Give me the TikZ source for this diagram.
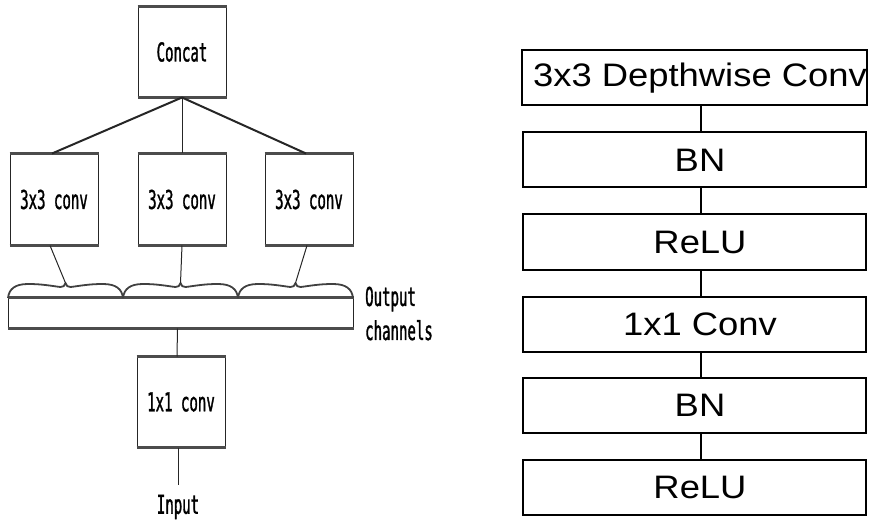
\documentclass[tikz,border=0pt]{standalone}
\usepackage{fontspec}
\setmainfont{Liberation Sans}
\newfontfamily\narrowmono[FakeStretch=0.54, FakeBold=1.2]{DejaVu Sans Mono}
\newfontfamily\widesans[FakeStretch=1.12]{Liberation Sans}
\usetikzlibrary{calc}

\tikzset{
  monobox/.style={draw=black!85, line width=1pt, minimum width=88pt, minimum height=90pt,
    inner sep=0pt, font=\narrowmono\fontsize{26}{29}\selectfont},
  rim/.style={draw=black!70, line width=3pt},
  thinlink/.style={draw=black!85, line width=1pt},
  thicklink/.style={draw=black!85, line width=2pt},
  chbrace/.style={draw=black!75, line width=1.8pt, line join=round},
  monotext/.style={font=\narrowmono\fontsize{26}{34}\selectfont, inner sep=0pt},
  layer/.style={draw, line width=2pt, minimum width=343pt, minimum height=55pt,
    inner sep=0pt, font=\widesans\fontsize{32.5}{36}\selectfont,
    execute at begin node={\hspace*{11pt}}},
  layerlink/.style={draw, line width=2pt}
}

\begin{document}
\begin{tikzpicture}[x=1pt, y=-1pt]
\useasboundingbox (0,0) rectangle (869,521);
\clip (0,0) rectangle (869,521);

% ---- grouped convolution block ----
\node[monobox] (concat) at (182,52) {Concat};
\node[monobox, minimum height=91pt] (ca) at (54,199.5) {3x3 conv};
\node[monobox, minimum height=91pt] (cb) at (182,199.5) {3x3 conv};
\node[monobox, minimum height=91pt] (cc) at (309,199.5) {3x3 conv};
\node[draw=black!85, line width=1pt, minimum width=345pt, minimum height=30pt, inner sep=0pt] (bar) at (180.5,313) {};
\node[monobox] (pw) at (181,402) {1x1 conv};
\node[monotext] (input) at (178,507) {Input};
\node[monotext, anchor=west, align=left] (outlbl) at (365,313.5) {Output\\channels};

% heavier top and bottom edges
\foreach \b in {concat,ca,cb,cc,pw,bar} {
  \draw[rim] (\b.north west) -- (\b.north east);
  \draw[rim] (\b.south west) -- (\b.south east);
}

% channel groups: one curly bracket per group, tip pointing up
\foreach \x/\w/\t in {8/115/t1, 123/115/t2, 238/115/t3} {
  \coordinate (\t) at ({\x+\w/2},283);
  \draw[chbrace] (\x,298)
    .. controls (\x+1,289) and (\x+7,284) .. (\x+20,284)
    .. controls (\x+35,284) and ({\x+\w/2-14},286) .. ({\x+\w/2-5},287)
    .. controls ({\x+\w/2-2},287) and ({\x+\w/2-1},286) .. (\t)
    .. controls ({\x+\w/2+1},286) and ({\x+\w/2+2},287) .. ({\x+\w/2+5},287)
    .. controls ({\x+\w/2+14},286) and (\x+\w-35,284) .. (\x+\w-20,284)
    .. controls (\x+\w-7,284) and (\x+\w-1,289) .. (\x+\w,298);
}

% connectors
\draw[thicklink] (concat.south) -- ([xshift=-2pt]ca.north);
\draw[thinlink] (concat.south) -- (cb.north);
\draw[thicklink] (concat.south) -- ([xshift=-3pt]cc.north);
\draw[thinlink] ([xshift=-4pt]ca.south) -- (t1);
\draw[thinlink] (cb.south) -- (t2);
\draw[thinlink] ([xshift=-2pt]cc.south) -- (t3);
\draw[thinlink] ([xshift=-3pt]bar.south) -- ([xshift=-4pt]pw.north);
\draw[thinlink] ([xshift=-3pt]pw.south) -- ([yshift=10pt]input.north);

% ---- depthwise separable block ----
\node[layer] (l1) at (694.5,78) {3x3 Depthwise Conv};
\node[layer] (l2) at (694.5,160) {BN};
\node[layer] (l3) at (694.5,242) {ReLU};
\node[layer] (l4) at (694.5,324) {1x1 Conv};
\node[layer] (l5) at (694.5,405) {BN};
\node[layer] (l6) at (694.5,487) {ReLU};
\foreach \a/\b in {l1/l2,l2/l3,l3/l4,l4/l5,l5/l6}
  \draw[layerlink] ([xshift=6.5pt]\a.south) -- ([xshift=6.5pt]\b.north);
\end{tikzpicture}
\end{document}
